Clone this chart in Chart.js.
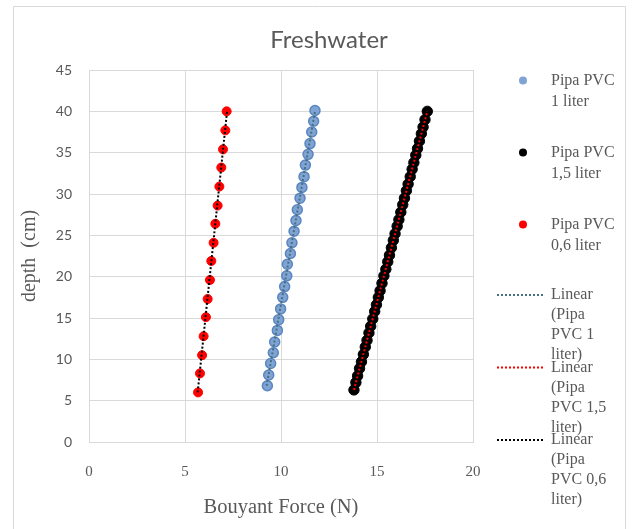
<!DOCTYPE html>
<html>
<head>
<meta charset="utf-8">
<script src="https://cdn.jsdelivr.net/npm/chart.js@4.4.1/dist/chart.umd.min.js"></script>
<style>
  html, body { margin: 0; padding: 0; background: #fff; }
</style>
</head>
<body>
<canvas id="scatterChart" width="633" height="529"></canvas>
<script>
// depth (cm) vs buoyant force (N)
var pvc1Force = [9.29, 9.36, 9.46, 9.60, 9.67, 9.81, 9.88, 9.98, 10.09, 10.19, 10.30, 10.33, 10.49,
                 10.57, 10.68, 10.78, 10.85, 10.99, 11.09, 11.20, 11.27, 11.41, 11.51, 11.60, 11.70, 11.77];
var pvc1Depth = [6.8, 8.1, 9.5, 10.8, 12.1, 13.5, 14.8, 16.1, 17.5, 18.8, 20.1, 21.5, 22.8,
                 24.1, 25.5, 26.8, 28.1, 29.5, 30.8, 32.1, 33.5, 34.8, 36.1, 37.5, 38.8, 40.1];

var pvc15Force = [13.80, 13.90, 13.99, 14.09, 14.19, 14.29, 14.39, 14.48, 14.58, 14.67,
                  14.78, 14.88, 14.97, 15.07, 15.16, 15.26, 15.36, 15.46, 15.56, 15.65,
                  15.75, 15.85, 15.94, 16.05, 16.14, 16.24, 16.34, 16.43, 16.53, 16.62,
                  16.73, 16.83, 16.92, 17.02, 17.11, 17.21, 17.31, 17.40, 17.50, 17.62];
var pvc15Depth = [6.3, 7.2, 8.0, 8.9, 9.7, 10.6, 11.5, 12.3, 13.2, 14.0,
                  14.9, 15.8, 16.6, 17.5, 18.3, 19.2, 20.1, 20.9, 21.8, 22.6,
                  23.5, 24.4, 25.2, 26.1, 26.9, 27.8, 28.7, 29.5, 30.4, 31.2,
                  32.1, 33.0, 33.8, 34.7, 35.5, 36.4, 37.3, 38.1, 39.0, 40.0];

var pvc06Force = [5.68, 5.78, 5.89, 5.97, 6.09, 6.18, 6.30, 6.37, 6.49, 6.58, 6.70, 6.79, 6.89, 6.98, 7.10, 7.17];
var pvc06Depth = [6.0, 8.3, 10.5, 12.8, 15.1, 17.3, 19.6, 21.9, 24.1, 26.4, 28.6, 30.9, 33.2, 35.4, 37.7, 40.0];

// linear trendline end points
var trend1Force = [9.25, 11.78];
var trend1Depth = [6.8, 40.1];
var trend15Force = [13.80, 17.62];
var trend15Depth = [6.3, 40.0];
var trend06Force = [5.66, 7.19];
var trend06Depth = [6.0, 40.0];

var xTicks = [0, 5, 10, 15, 20];
var yTicks = [0, 5, 10, 15, 20, 25, 30, 35, 40, 45];

var legendText = [
    ['Pipa PVC', '1 liter'],
    ['Pipa PVC', '1,5 liter'],
    ['Pipa PVC', '0,6 liter'],
    ['Linear', '(Pipa', 'PVC 1', 'liter)'],
    ['Linear', '(Pipa', 'PVC 1,5', 'liter)'],
    ['Linear', '(Pipa', 'PVC 0,6', 'liter)']
];

function toPoints(xs, ys) {
    return xs.map(function (x, i) { return { x: x, y: ys[i] }; });
}

var serif = '"Liberation Serif", "Times New Roman", serif';
var sans = 'Lato, "Open Sans", sans-serif';
var textGray = '#595959';
var gridGray = '#d9d9d9';

// frame, title and the legend are drawn by hand (Excel-like wrapped legend)
var excelDecor = {
    id: 'excelDecor',
    beforeDraw: function (chart) {
        var ctx = chart.ctx;
        ctx.save();
        ctx.fillStyle = '#fff';
        ctx.fillRect(0, 0, chart.width, chart.height);
        ctx.strokeStyle = gridGray;
        ctx.lineWidth = 1;
        ctx.beginPath();
        ctx.moveTo(13.5, 529);
        ctx.lineTo(13.5, 6.5);
        ctx.lineTo(625.5, 6.5);
        ctx.lineTo(625.5, 529);
        ctx.stroke();
        ctx.restore();
    },
    afterDraw: function (chart) {
        var ctx = chart.ctx;
        var ds = chart.data.datasets;
        ctx.save();
        ctx.fillStyle = textGray;
        ctx.font = '24px ' + sans;
        ctx.textAlign = 'center';
        ctx.textBaseline = 'middle';
        ctx.fillText('Freshwater', 329, 40);

        ctx.font = '16px ' + serif;
        ctx.textAlign = 'left';
        // marker entries
        for (var i = 0; i < 3; i++) {
            var d = ds[i + 3];
            var cy = 80.5 + i * 72;
            ctx.beginPath();
            ctx.arc(523, cy, 4, 0, Math.PI * 2);
            ctx.fillStyle = d.backgroundColor;
            ctx.fill();
            ctx.fillStyle = textGray;
            legendText[i].forEach(function (line, k) {
                ctx.fillText(line, 551, cy + k * 21);
            });
        }
        // trendline entries
        for (var j = 0; j < 3; j++) {
            var t = ds[j];
            var ly = 295 + j * 72.5;
            ctx.strokeStyle = t.borderColor;
            ctx.lineWidth = 2;
            ctx.setLineDash([2, 2]);
            ctx.beginPath();
            ctx.moveTo(497, ly);
            ctx.lineTo(545, ly);
            ctx.stroke();
            ctx.setLineDash([]);
            ctx.fillStyle = textGray;
            legendText[j + 3].forEach(function (line, k) {
                ctx.fillText(line, 551, ly + k * 20);
            });
        }
        ctx.restore();
    }
};

var ctxScatter = document.getElementById('scatterChart').getContext('2d');
var scatterChart = new Chart(ctxScatter, {
    type: 'scatter',
    data: {
        datasets: [{
            label: 'Linear (Pipa PVC 1 liter)',
            type: 'line',
            data: toPoints(trend1Force, trend1Depth),
            borderColor: '#46707f',
            borderWidth: 2,
            borderDash: [2, 2],
            pointRadius: 0,
            fill: false,
            order: 0
        }, {
            label: 'Linear (Pipa PVC 1,5 liter)',
            type: 'line',
            data: toPoints(trend15Force, trend15Depth),
            borderColor: '#ff0000',
            borderWidth: 2,
            borderDash: [2, 2],
            pointRadius: 0,
            fill: false,
            order: 0
        }, {
            label: 'Linear (Pipa PVC 0,6 liter)',
            type: 'line',
            data: toPoints(trend06Force, trend06Depth),
            borderColor: '#000000',
            borderWidth: 2,
            borderDash: [2, 2],
            pointRadius: 0,
            fill: false,
            order: 0
        }, {
            label: 'Pipa PVC 1 liter',
            data: toPoints(pvc1Force, pvc1Depth),
            backgroundColor: '#7fa3d3',
            borderColor: '#5b86c0',
            borderWidth: 1.5,
            pointRadius: 5,
            order: 1
        }, {
            label: 'Pipa PVC 1,5 liter',
            data: toPoints(pvc15Force, pvc15Depth),
            backgroundColor: '#000000',
            borderColor: '#000000',
            borderWidth: 1,
            pointRadius: 5.2,
            order: 1
        }, {
            label: 'Pipa PVC 0,6 liter',
            data: toPoints(pvc06Force, pvc06Depth),
            backgroundColor: '#ff0000',
            borderColor: '#ff0000',
            borderWidth: 1,
            pointRadius: 4.5,
            order: 1
        }]
    },
    options: {
        responsive: false,
        animation: false,
        layout: {
            padding: { left: 14, right: 160, top: 70, bottom: 0 }
        },
        plugins: {
            legend: { display: false },
            title: { display: false },
            tooltip: { enabled: false }
        },
        scales: {
            x: {
                type: 'linear',
                min: 0,
                max: 20,
                afterFit: function (scale) { scale.height = 87; },
                afterBuildTicks: function (scale) {
                    scale.ticks = xTicks.map(function (v) { return { value: v }; });
                },
                grid: { color: gridGray, drawTicks: false },
                border: { color: gridGray },
                ticks: {
                    padding: 21,
                    color: textGray,
                    font: { family: serif, size: 15 }
                },
                title: {
                    display: true,
                    text: 'Bouyant Force (N)',
                    color: textGray,
                    font: { family: serif, size: 20.5 },
                    padding: { top: 0, bottom: 9 }
                }
            },
            y: {
                type: 'linear',
                min: 0,
                max: 45,
                afterFit: function (scale) { scale.width = 75; },
                afterBuildTicks: function (scale) {
                    scale.ticks = yTicks.map(function (v) { return { value: v }; });
                },
                grid: { color: gridGray, drawTicks: false },
                border: { color: gridGray },
                ticks: {
                    padding: 17,
                    color: textGray,
                    font: { family: sans, size: 14 }
                },
                title: {
                    display: true,
                    text: 'depth  (cm)',
                    color: textGray,
                    font: { family: serif, size: 20 },
                    padding: { top: 4, bottom: 0 }
                }
            }
        }
    },
    plugins: [excelDecor]
});
</script>
</body>
</html>
